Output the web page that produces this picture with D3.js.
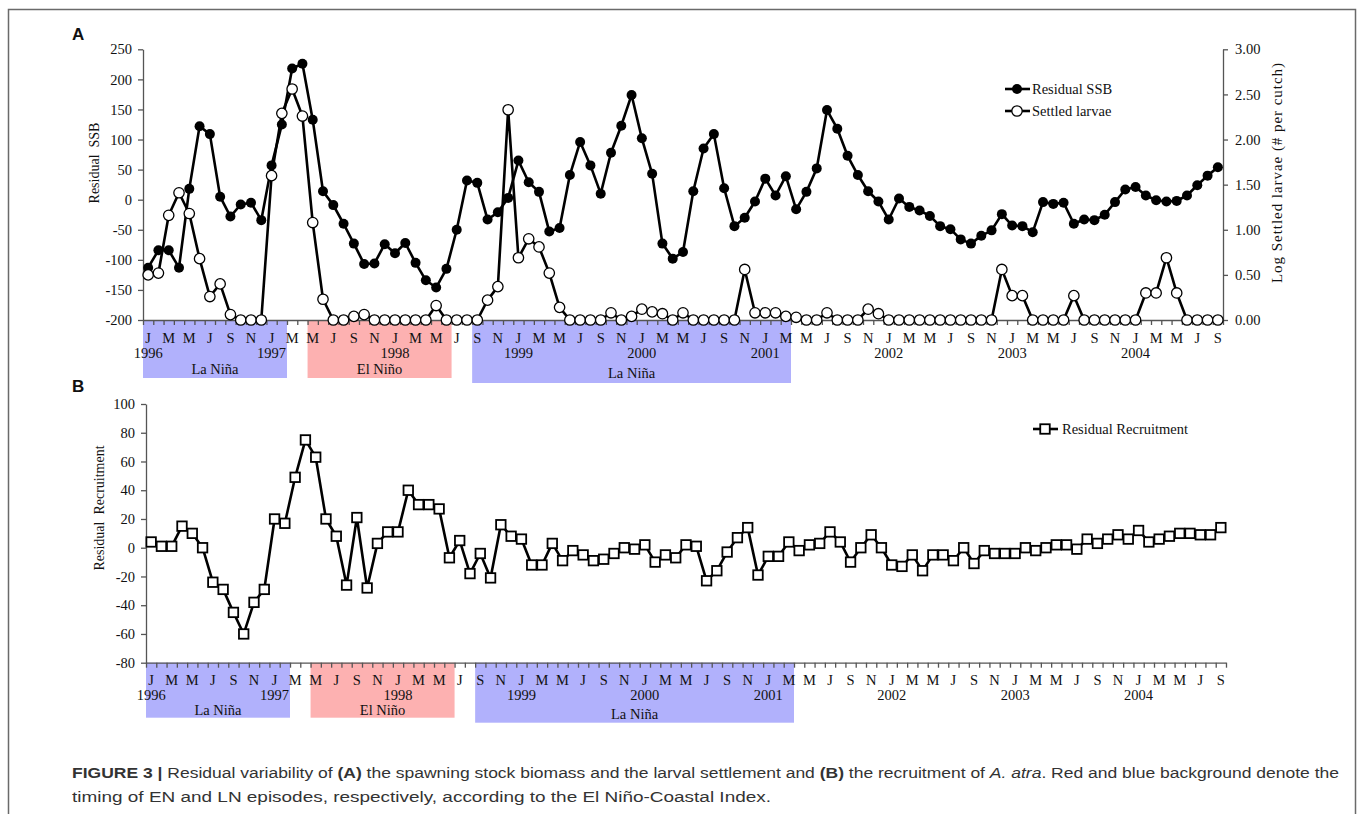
<!DOCTYPE html>
<html>
<head>
<meta charset="utf-8">
<script src="https://cdn.jsdelivr.net/npm/d3@7"></script>
<style>
  body { margin: 0; background: #fff; }
  svg text { font-family: "Liberation Serif", "Times New Roman", serif; fill: #111; }
</style>
</head>
<body>
<svg id="fig" width="1360" height="814"></svg>
<script>
// ---- Months of the series: January 1996 to September 2004 ----
const years = [1996, 1997, 1998, 1999, 2000, 2001, 2002, 2003, 2004];
const monthInitials = ["J", "F", "M", "A", "M", "J", "J", "A", "S", "O", "N", "D"];
const lastMonth2004 = 9;

// ---- Residual spawning stock biomass (left axis, panel A) ----
const residualSSB = [
  -113, -84, -84, -113, 18, 122, 109, 5, -28, -8, -5, -34,       // 1996
  57, 125, 218, 226, 133, 14, -9, -40, -73, -107, -106, -74,     // 1997
  -89, -72, -105, -134, -146, -115, -50, 32, 28, -33, -21, 3,    // 1998
  65, 29, 13, -53, -47, 41, 96, 57, 10, 78, 123, 174,            // 1999
  102, 43, -73, -98, -87, 14, 85, 109, 19, -44, -30, -3,         // 2000
  35, 7, 39, -16, 13, 52, 149, 118, 73, 41, 14, -3,              // 2001
  -33, 2, -12, -18, -27, -44, -49, -66, -73, -60, -51, -24,      // 2002
  -43, -44, -54, -4, -7, -5, -40, -33, -34, -25, -4, 17,         // 2003
  21, 7, -1, -3, -2, 7, 24, 40, 54                               // 2004
];

// ---- Log settled larvae, # per cutch (right axis, panel A) ----
const settledLarvae = [
  0.50, 0.52, 1.16, 1.41, 1.18, 0.68, 0.26, 0.40, 0.06, 0, 0, 0,
  1.60, 2.29, 2.56, 2.26, 1.08, 0.23, 0, 0, 0.04, 0.06, 0, 0,
  0, 0, 0, 0, 0.16, 0, 0, 0, 0, 0.22, 0.37, 2.33,
  0.69, 0.90, 0.81, 0.52, 0.14, 0, 0, 0, 0, 0.08, 0, 0.04,
  0.12, 0.09, 0.07, 0, 0.08, 0, 0, 0, 0, 0, 0.56, 0.08,
  0.08, 0.08, 0.04, 0.03, 0, 0, 0.08, 0, 0, 0, 0.12, 0.07,
  0, 0, 0, 0, 0, 0, 0, 0, 0, 0, 0, 0.56,
  0.27, 0.27, 0, 0, 0, 0, 0.27, 0, 0, 0, 0, 0,
  0, 0.30, 0.30, 0.69, 0.30, 0, 0, 0, 0
];

// ---- Residual recruitment (panel B) ----
const residualRecruitment = [
  4, 1, 1, 15, 10, 0, -24, -29, -45, -60, -38, -29,
  20, 17, 49, 75, 63, 20, 8, -26, 21, -28, 3, 11,
  11, 40, 30, 30, 27, -7, 5, -18, -4, -21, 16, 8,
  6, -12, -12, 3, -9, -2, -5, -9, -8, -4, 0, -1,
  2, -10, -5, -7, 2, 1, -23, -16, -3, 7, 14, -19,
  -6, -6, 4, -2, 2, 3, 11, 4, -10, 0, 9, 0,
  -12, -13, -5, -16, -5, -5, -9, 0, -11, -2, -4, -4,
  -4, 0, -2, 0, 2, 2, -1, 6, 3, 6, 9, 6,
  12, 4, 6, 8, 10, 10, 9, 9, 14
];

// ---- ENSO episodes (El Niño-Coastal Index) ----
const episodeNames = ["La Niña", "El Niño", "La Niña"];
const episodeKinds = ["LN", "EN", "LN"];
const episodeStart = ["1996-1", "1997-5", "1998-9"];
const episodeEnd = ["1997-2", "1998-6", "2001-3"];

// ---- Axis ticks ----
const ssbTicks = [-200, -150, -100, -50, 0, 50, 100, 150, 200, 250];
const larvaeTicks = [0, 0.5, 1, 1.5, 2, 2.5, 3];
const recruitTicks = [-80, -60, -40, -20, 0, 20, 40, 60, 80, 100];

// month keys
const months = [];
years.forEach(y => {
  monthInitials.forEach((lab, m) => {
    if (y === 2004 && m >= lastMonth2004) return;
    months.push({ key: `${y}-${m + 1}`, year: y, m, lab });
  });
});
const keys = months.map(d => d.key);

const episodeFill = { LN: "#b1b1fc", EN: "#fdb1b1" };
const sansFont = '"Liberation Sans", Arial, sans-serif';
const serifFont = '"Liberation Serif", "Times New Roman", serif';

const svg = d3.select("#fig");

// outer frame of the figure
svg.append("rect")
  .attr("x", 8.5).attr("y", 9.5).attr("width", 1347).attr("height", 900)
  .attr("fill", "none").attr("stroke", "#6a6a6a").attr("stroke-width", 1.5);

function drawPanel(cfg) {
  const g = svg.append("g");
  const xb = d3.scaleBand().domain(keys).range([cfg.x0, cfg.x1]).padding(0);
  const cx = k => xb(k) + xb.bandwidth() / 2;
  const xEdge = d3.scaleLinear().domain([0, keys.length]).range([cfg.x0, cfg.x1]);
  const y = cfg.y;
  const base = y.range()[0];

  // episode background boxes
  episodeNames.forEach((name, i) => {
    const a = xb(episodeStart[i]);
    const b = xb(episodeEnd[i]) + xb.bandwidth();
    const depth = i === 2 ? cfg.bandDeep : cfg.bandDepth;
    g.append("rect")
      .attr("x", a).attr("y", base).attr("width", b - a).attr("height", depth)
      .attr("fill", episodeFill[episodeKinds[i]]);
    g.append("text")
      .attr("x", (a + b) / 2).attr("y", i === 2 ? cfg.epiLabelY2 : cfg.epiLabelY)
      .attr("text-anchor", "middle").style("font-size", "14.5px")
      .text(name);
  });

  // left axis
  const la = g.append("g").attr("transform", `translate(${cfg.x0},0)`)
    .call(d3.axisLeft(y).tickValues(cfg.ticks).tickFormat(d => String(d))
      .tickSize(5).tickSizeOuter(0).tickPadding(6));
  la.selectAll("text").style("font-size", "14.5px").attr("fill", "#111")
    .style("font-family", serifFont);
  la.selectAll("line,path").attr("stroke", "#555").attr("stroke-width", 1.3);

  // bottom axis: tick marks between months
  const ba = g.append("g").attr("transform", `translate(0,${base})`)
    .call(d3.axisBottom(xEdge).tickValues(d3.range(0, keys.length + 1))
      .tickFormat("").tickSize(5).tickSizeOuter(0));
  ba.selectAll("line,path").attr("stroke", "#555").attr("stroke-width", 1.3);

  // month initials every second month, year under January
  months.forEach(d => {
    if (d.m % 2 === 0) {
      g.append("text").attr("x", cx(d.key)).attr("y", cfg.monthY)
        .attr("text-anchor", "middle").style("font-size", "14.5px").text(d.lab);
    }
    if (d.m === 0) {
      g.append("text").attr("x", cx(d.key)).attr("y", cfg.yearY)
        .attr("text-anchor", "middle").style("font-size", "14.5px").text(d.year);
    }
  });

  return { g, xb, cx };
}

// ================= Panel A =================
const yA = d3.scaleLinear().domain([-200, 250]).range([320, 49.3]);
const yA2 = d3.scaleLinear().domain([0, 3]).range([320, 49.3]);
const A = drawPanel({
  x0: 143, x1: 1223, y: yA, ticks: ssbTicks,
  bandDepth: 58, bandDeep: 63, epiLabelY: 373.5, epiLabelY2: 378,
  monthY: 343, yearY: 357.5
});

// right axis
const ra = A.g.append("g").attr("transform", "translate(1223,0)")
  .call(d3.axisRight(yA2).tickValues(larvaeTicks).tickFormat(d3.format(".2f"))
    .tickSize(5).tickSizeOuter(0).tickPadding(7));
ra.selectAll("text").style("font-size", "14.5px").attr("fill", "#111")
  .style("font-family", serifFont);
ra.selectAll("line,path").attr("stroke", "#555").attr("stroke-width", 1.3);

const lineW = 2.6;
const ssbLine = d3.line().x((d, i) => A.cx(keys[i])).y(d => yA(d));
A.g.append("path").datum(residualSSB).attr("d", ssbLine)
  .attr("fill", "none").attr("stroke", "#000").attr("stroke-width", lineW)
  .attr("stroke-linejoin", "round");
A.g.selectAll("circle.ssb").data(residualSSB).join("circle").attr("class", "ssb")
  .attr("cx", (d, i) => A.cx(keys[i])).attr("cy", d => yA(d)).attr("r", 5)
  .attr("fill", "#000");

const larvaeLine = d3.line().x((d, i) => A.cx(keys[i])).y(d => yA2(d));
A.g.append("path").datum(settledLarvae).attr("d", larvaeLine)
  .attr("fill", "none").attr("stroke", "#000").attr("stroke-width", lineW)
  .attr("stroke-linejoin", "round");
A.g.selectAll("circle.lar").data(settledLarvae).join("circle").attr("class", "lar")
  .attr("cx", (d, i) => A.cx(keys[i])).attr("cy", d => yA2(d)).attr("r", 5.2)
  .attr("fill", "#fff").attr("stroke", "#000").attr("stroke-width", 1.3);

// axis titles
A.g.append("text").attr("transform", "translate(99,163) rotate(-90)")
  .attr("text-anchor", "middle").style("font-size", "14px").style("white-space", "pre")
  .text("Residual  SSB");
A.g.append("text").attr("transform", "translate(1282,173) rotate(-90)")
  .attr("text-anchor", "middle").style("font-size", "15px")
  .attr("textLength", 220).attr("lengthAdjust", "spacing")
  .text("Log Settled larvae (# per cutch)");

// legend
const legA = A.g.append("g");
legA.append("line").attr("x1", 1005).attr("x2", 1030).attr("y1", 89).attr("y2", 89)
  .attr("stroke", "#000").attr("stroke-width", lineW);
legA.append("circle").attr("cx", 1017).attr("cy", 89).attr("r", 5).attr("fill", "#000");
legA.append("text").attr("x", 1032).attr("y", 94).style("font-size", "14.5px").text("Residual SSB");
legA.append("line").attr("x1", 1005).attr("x2", 1030).attr("y1", 111).attr("y2", 111)
  .attr("stroke", "#000").attr("stroke-width", lineW);
legA.append("circle").attr("cx", 1017).attr("cy", 111).attr("r", 5.2)
  .attr("fill", "#fff").attr("stroke", "#000").attr("stroke-width", 1.3);
legA.append("text").attr("x", 1032).attr("y", 116).style("font-size", "14.5px").text("Settled larvae");

// panel letter
svg.append("text").attr("x", 72).attr("y", 40)
  .style("font-family", sansFont)
  .style("font-weight", "bold").style("font-size", "17px").text("A");

// ================= Panel B =================
const yB = d3.scaleLinear().domain([-80, 100]).range([662.7, 404]);
const B = drawPanel({
  x0: 146, x1: 1226, y: yB, ticks: recruitTicks,
  bandDepth: 55, bandDeep: 60, epiLabelY: 715, epiLabelY2: 719,
  monthY: 685, yearY: 699.5
});

const recLine = d3.line().x((d, i) => B.cx(keys[i])).y(d => yB(d));
B.g.append("path").datum(residualRecruitment).attr("d", recLine)
  .attr("fill", "none").attr("stroke", "#000").attr("stroke-width", lineW)
  .attr("stroke-linejoin", "round");
const sq = 9.5;
B.g.selectAll("rect.rec").data(residualRecruitment).join("rect").attr("class", "rec")
  .attr("x", (d, i) => B.cx(keys[i]) - sq / 2).attr("y", d => yB(d) - sq / 2)
  .attr("width", sq).attr("height", sq)
  .attr("fill", "#fff").attr("stroke", "#000").attr("stroke-width", 1.8);

B.g.append("text").attr("transform", "translate(104,508) rotate(-90)")
  .attr("text-anchor", "middle").style("font-size", "14px").style("white-space", "pre")
  .text("Residual  Recruitment");

const legB = B.g.append("g");
legB.append("line").attr("x1", 1033).attr("x2", 1058).attr("y1", 429).attr("y2", 429)
  .attr("stroke", "#000").attr("stroke-width", lineW);
legB.append("rect").attr("x", 1045 - sq / 2).attr("y", 429 - sq / 2)
  .attr("width", sq).attr("height", sq)
  .attr("fill", "#fff").attr("stroke", "#000").attr("stroke-width", 1.8);
legB.append("text").attr("x", 1062).attr("y", 434).style("font-size", "14.5px").text("Residual Recruitment");

svg.append("text").attr("x", 72).attr("y", 392)
  .style("font-family", sansFont)
  .style("font-weight", "bold").style("font-size", "17px").text("B");

// ================= Caption =================
const cap = svg.append("g");
const l1 = cap.append("text").attr("x", 72).attr("y", 778)
  .attr("textLength", 1267).attr("lengthAdjust", "spacingAndGlyphs")
  .style("font-family", sansFont)
  .style("font-size", "15.5px").style("fill", "#333");
[
  ["FIGURE 3 |", "bold", "normal"],
  [" Residual variability of ", "normal", "normal"],
  ["(A)", "bold", "normal"],
  [" the spawning stock biomass and the larval settlement and ", "normal", "normal"],
  ["(B)", "bold", "normal"],
  [" the recruitment of ", "normal", "normal"],
  ["A. atra", "normal", "italic"],
  [". Red and blue background denote the", "normal", "normal"]
].forEach(([t, w, s]) => {
  l1.append("tspan").style("font-weight", w).style("font-style", s)
    .style("white-space", "pre").text(t);
});
cap.append("text").attr("x", 72).attr("y", 802)
  .attr("textLength", 699).attr("lengthAdjust", "spacingAndGlyphs")
  .style("font-family", sansFont)
  .style("font-size", "15.5px").style("fill", "#333")
  .text("timing of EN and LN episodes, respectively, according to the El Niño-Coastal Index.");
</script>
</body>
</html>
